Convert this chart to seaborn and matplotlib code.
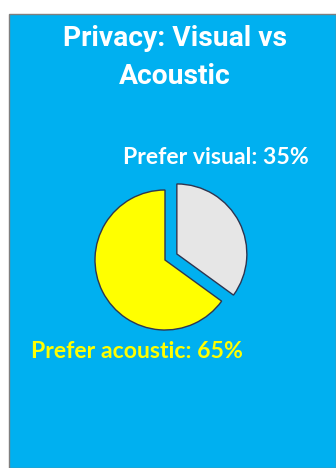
import matplotlib
matplotlib.use("Agg")
import matplotlib.pyplot as plt
from matplotlib.patches import Rectangle
import seaborn as sns

categories = ["Prefer visual", "Prefer acoustic"]
values = [35, 65]
labels = ["Prefer visual: 35%", "Prefer acoustic: 65%"]
title_lines = ["Privacy: Visual vs", "Acoustic"]

sns.set_theme(style="white")
plt.rcParams["font.family"] = ["Lato", "DejaVu Sans"]

W, H = 336, 468
fig = plt.figure(figsize=(W / 100, H / 100), dpi=100)
fig.patch.set_facecolor("white")

# blue panel
panel = Rectangle((9 / W, 0), 1 - 9 / W, 1 - 14 / H, transform=fig.transFigure,
                  facecolor="#00b0f0", edgecolor="#7f7f7f", linewidth=1.0, zorder=-10)
fig.patches.append(panel)

# pie axes: center (165, 260) px, radius 70 px, limits +-1.5
r = 70
cx, cy = 165, 260
half = 1.5 * r
ax = fig.add_axes([(cx - half) / W, (H - cy - half) / H, 2 * half / W, 2 * half / H])
ax.set_zorder(5)
ax.patch.set_alpha(0)
colors = ["#e6e6e6", "#ffff00"]
ax.pie(values, colors=colors, startangle=90, counterclock=False,
       explode=[0.19, 0.0],
       wedgeprops=dict(edgecolor="#2f3550", linewidth=1.0))
ax.set_xlim(-1.5, 1.5)
ax.set_ylim(-1.5, 1.5)
ax.set_aspect("equal")
ax.axis("off")

# title
fig.text(175 / W, 1 - 38 / H, title_lines[0], ha="center", va="center",
         color="white", fontsize=20.3, fontweight="bold", family=["Roboto", "DejaVu Sans"])
fig.text(175 / W, 1 - 76 / H, title_lines[1], ha="center", va="center",
         color="white", fontsize=20.3, fontweight="bold", family=["Roboto", "DejaVu Sans"])

# labels
fig.text(216 / W, 1 - 158 / H, labels[0], ha="center", va="center",
         color="white", fontsize=16.6, fontweight="bold")
fig.text(137 / W, 1 - 352 / H, labels[1], ha="center", va="center",
         color="#ffff00", fontsize=16.6, fontweight="bold")

fig.savefig("out.png", dpi=100)
